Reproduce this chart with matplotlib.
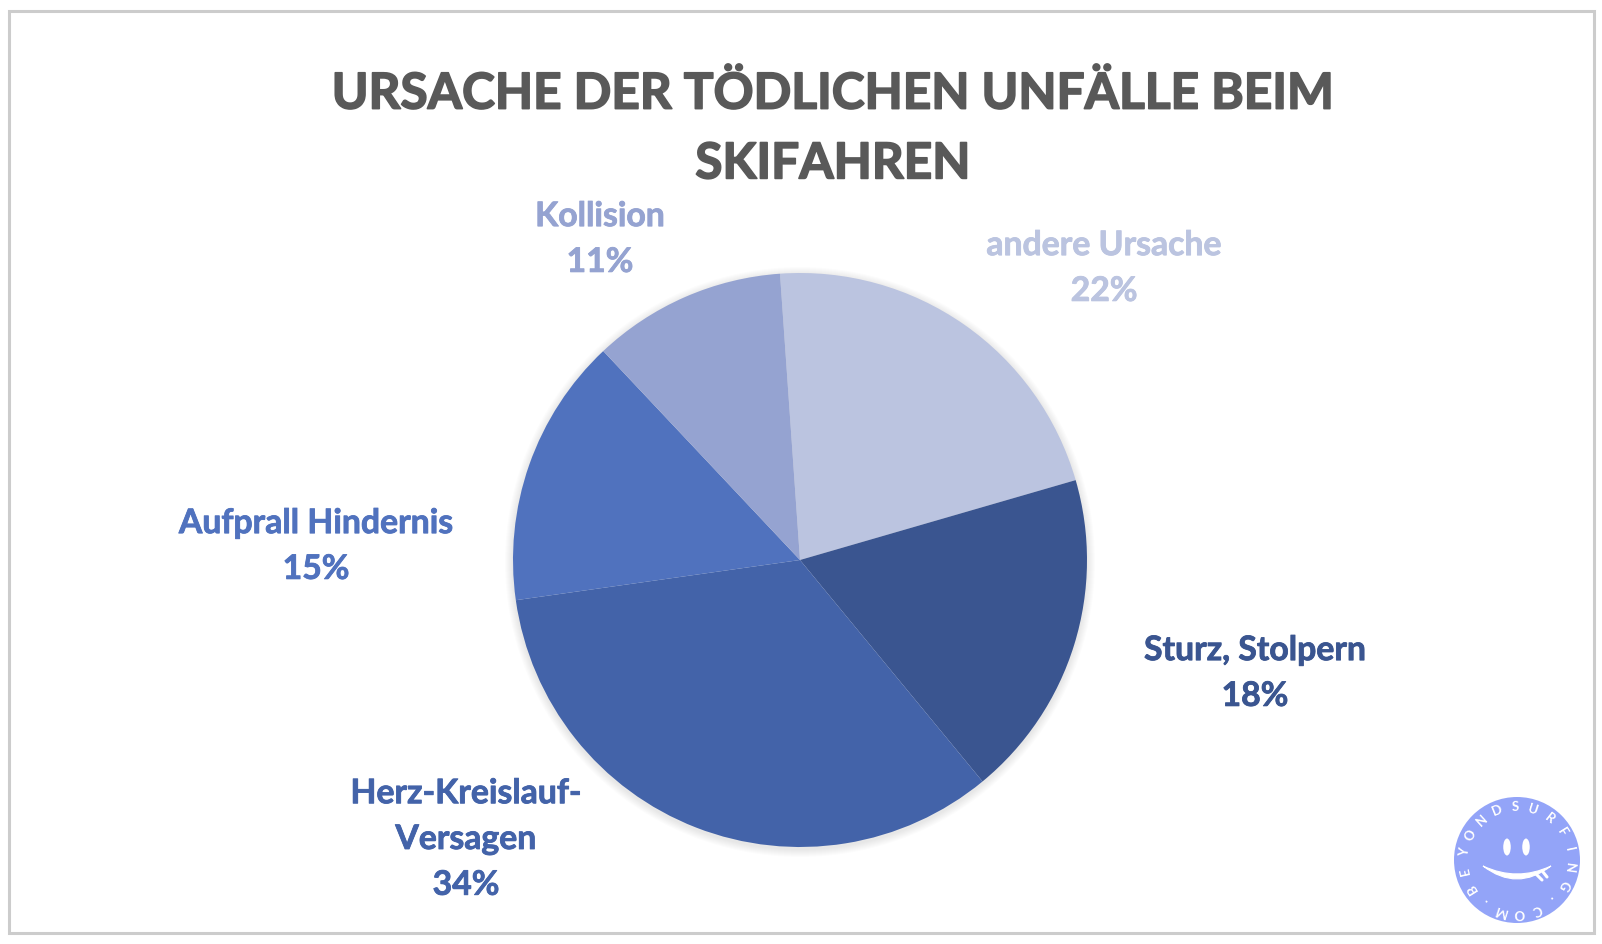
#!/usr/bin/env python3
import numpy as np
import matplotlib
matplotlib.use('Agg')
import matplotlib.pyplot as plt
import matplotlib.patheffects as pe
from matplotlib.patches import Circle, Ellipse, PathPatch, Rectangle
from matplotlib.path import Path

W, H = 1602, 944

# clockwise, starting just left of 12 o'clock
categories = ['andere Ursache', 'Sturz, Stolpern', 'Herz-Kreislauf-\nVersagen', 'Aufprall Hindernis', 'Kollision']
values = [21.6, 18.5, 33.7, 15.2, 10.9]
percent_labels = ['22%', '18%', '34%', '15%', '11%']
colors = ['#BBC4E0', '#3A5590', '#4363A9', '#5072BE', '#95A3D1']

title = 'URSACHE DER TÖDLICHEN UNFÄLLE BEIM\nSKIFAHREN'
logo_text = 'BEYONDSURFING.COM.'

plt.rcParams['font.family'] = ['Lato', 'DejaVu Sans']

fig = plt.figure(figsize=(W / 100, H / 100), dpi=100)
ax = fig.add_axes([0, 0, 1, 1])
ax.set_xlim(0, W)
ax.set_ylim(0, H)
ax.axis('off')


def py(y):
    # picture coordinates count from the top
    return H - y


# frame
ax.add_patch(Rectangle((8.5, py(933)), 1585, 922, fill=False, ec='#CCCCCC', lw=2.2))

ax.text(833, py(128.5), title, ha='center', va='center', fontsize=35.7, fontweight='bold',
        color='#595959', linespacing=1.67,
        path_effects=[pe.withStroke(linewidth=1.2, foreground='#595959')])

# soft shadow under the pie
cx, cy, radius = 800, py(560), 287
for grow in range(1, 9):
    ax.add_patch(Circle((cx, cy - 2), radius + grow, fc='#000000', ec='none', alpha=0.012))

ax.pie(values, colors=colors, center=(cx, cy), radius=radius, startangle=94, counterclock=False,
       frame=False)
ax.set_xlim(0, W)
ax.set_ylim(0, H)
ax.set_aspect('auto')
ax.axis('off')

label_pos = [(1104, 268), (1255, 673), (466, 839), (316, 546), (600, 239)]
for name, pct, col, (x, y) in zip(categories, percent_labels, colors, label_pos):
    ax.text(x, py(y), name + '\n' + pct, ha='center', va='center', fontsize=24.3, fontweight='bold',
            color=col, linespacing=1.53,
            path_effects=[pe.withStroke(linewidth=0.6, foreground=col)])

# logo
lx, ly, lr = 1517, py(860), 63
ax.add_patch(Circle((lx, ly), lr, fc='#93A4F8', ec='none'))
ax.add_patch(Ellipse((lx - 10, py(847)), 7.5, 17, fc='white', ec='none'))
ax.add_patch(Ellipse((lx + 9, py(847)), 7.5, 17, fc='white', ec='none'))
smile = Path([(lx - 34, py(866)), (lx, py(892)), (lx + 34, py(866)), (lx, py(882)), (lx - 34, py(866))],
             [Path.MOVETO, Path.CURVE3, Path.CURVE3, Path.CURVE3, Path.CURVE3])
ax.add_patch(PathPatch(smile, fc='white', ec='white', lw=0.8))
ax.plot([lx + 19, lx + 25], [py(874), py(880)], color='white', lw=2.2, solid_capstyle='round')
ax.plot([lx + 26, lx + 30], [py(872), py(877)], color='white', lw=2.2, solid_capstyle='round')

# letters run clockwise around the whole badge
for i, ch in enumerate(logo_text):
    a = 212 - 20 * i
    t = np.radians(a)
    ax.text(lx + 53 * np.cos(t), ly + 53 * np.sin(t), ch, ha='center', va='center', fontsize=9.5,
            fontweight='bold', color='white', rotation=a - 90)

fig.savefig('out.png', dpi=100, facecolor='white')
